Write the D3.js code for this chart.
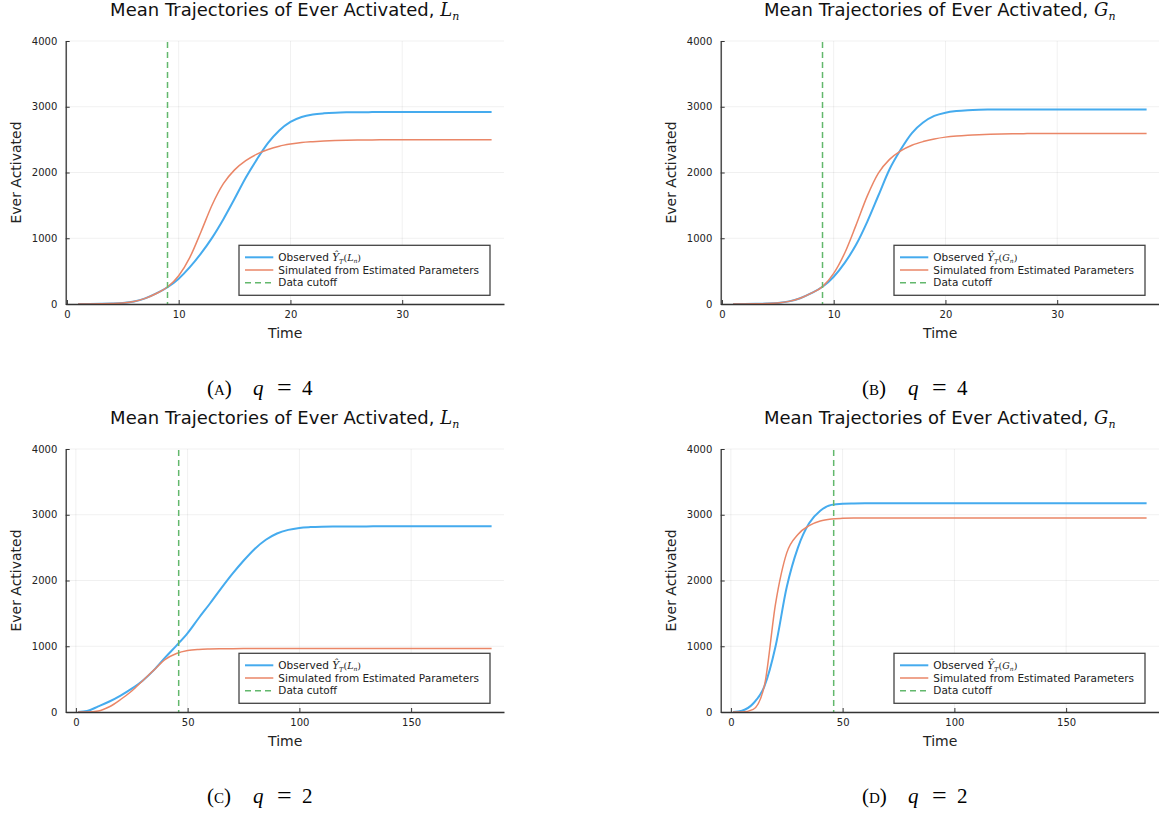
<!DOCTYPE html>
<html>
<head>
<meta charset="utf-8">
<script src="https://cdn.jsdelivr.net/npm/d3@7"></script>
<style>
  body { margin: 0; background: #fff; }
  svg { display: block; font-family: "DejaVu Sans", sans-serif; }
  text { white-space: pre; }
</style>
</head>
<body>
<svg id="fig" width="1159" height="813"></svg>
<script>
// ---- data ----
const timeQ4 = [1, 2, 3, 4, 5, 6, 7, 8, 9, 10, 11, 12, 13, 14, 15, 16, 17, 18, 19, 20,
  21, 22, 23, 24, 25, 26, 27, 28, 29, 30, 31, 32, 33, 34, 35, 36, 37, 38];
const obsLq4 = [0, 1, 3, 7, 16, 38, 85, 160, 255, 385, 560, 770, 1010, 1290, 1600, 1920, 2200, 2450, 2640, 2770,
  2845, 2882, 2900, 2910, 2915, 2917, 2918, 2919, 2919, 2920, 2920, 2920, 2920, 2920, 2920, 2920, 2920, 2920];
const simLq4 = [0, 1, 3, 7, 16, 38, 85, 160, 258, 430, 710, 1100, 1510, 1830, 2040, 2180, 2280, 2350, 2400, 2432,
  2455, 2468, 2478, 2485, 2490, 2493, 2495, 2497, 2498, 2499, 2500, 2500, 2500, 2500, 2500, 2500, 2500, 2500];
const obsGq4 = [0, 1, 3, 7, 17, 40, 88, 165, 262, 415, 630, 900, 1250, 1650, 2050, 2350, 2600, 2760, 2860, 2910,
  2935, 2948, 2955, 2958, 2960, 2960, 2960, 2960, 2960, 2960, 2960, 2960, 2960, 2960, 2960, 2960, 2960, 2960];
const simGq4 = [0, 1, 3, 7, 17, 40, 88, 165, 265, 465, 780, 1200, 1640, 1990, 2200, 2330, 2415, 2470, 2510, 2538,
  2556, 2568, 2576, 2582, 2586, 2589, 2591, 2593, 2594, 2595, 2595, 2595, 2595, 2595, 2595, 2595, 2595, 2595];

const timeQ2 = [1, 5, 10, 15, 20, 25, 30, 35, 40, 45, 50, 55, 60, 65, 70, 75, 80, 85, 90, 95,
  100, 105, 110, 115, 120, 130, 140, 150, 160, 170, 180, 186];
const obsLq2 = [0, 15, 85, 160, 250, 355, 480, 640, 830, 1010, 1200, 1430, 1650, 1880, 2100, 2300, 2480, 2620, 2715, 2770,
  2800, 2812, 2818, 2821, 2822, 2823, 2824, 2824, 2824, 2824, 2824, 2824];
const simLq2 = [0, 0, 15, 80, 190, 320, 480, 640, 800, 890, 935, 952, 958, 961, 963, 964, 964, 964, 964, 964,
  964, 964, 964, 964, 964, 964, 964, 964, 964, 964, 964, 964];
const obsGq2 = [0, 20, 130, 390, 1000, 1900, 2500, 2870, 3060, 3150, 3168, 3172, 3174, 3174, 3174, 3174, 3174, 3174, 3174, 3174,
  3174, 3174, 3174, 3174, 3174, 3174, 3174, 3174, 3174, 3174, 3174, 3174];
const simGq2 = [0, 0, 40, 400, 1650, 2420, 2700, 2835, 2905, 2935, 2945, 2949, 2950, 2950, 2950, 2950, 2950, 2950, 2950, 2950,
  2950, 2950, 2950, 2950, 2950, 2950, 2950, 2950, 2950, 2950, 2950, 2950];

const cutoffs = [9, 9, 46, 46];
const yTicks = [0, 1000, 2000, 3000, 4000];
const yDomain = [0, 4000];
const xTicksQ4 = [0, 10, 20, 30];
const xTicksQ2 = [0, 50, 100, 150];
const xDomainQ4 = [-0.11, 39.11];
const xDomainQ2 = [-4.55, 191.55];
const symbols = ['L', 'G', 'L', 'G'];
const captionLetters = ['a', 'b', 'c', 'd'];
const qValues = [4, 4, 2, 2];
const legendLabels = ['Observed ', 'Simulated from Estimated Parameters', 'Data cutoff'];

// ---- layout ----
const W = 438.3, H = 263;
const COL = { obs: '#45abee', sim: '#ea8667', cut: '#62b86c', axis: '#333', text: '#222' };
const SERIF = '"DejaVu Serif", serif';

const panels = [
  { left: 65.7, top: 41, t: timeQ4, obs: obsLq4, sim: simLq4, xTicks: xTicksQ4, xDomain: xDomainQ4 },
  { left: 720.7, top: 41, t: timeQ4, obs: obsGq4, sim: simGq4, xTicks: xTicksQ4, xDomain: xDomainQ4 },
  { left: 65.7, top: 449, t: timeQ2, obs: obsLq2, sim: simLq2, xTicks: xTicksQ2, xDomain: xDomainQ2 },
  { left: 720.7, top: 449, t: timeQ2, obs: obsGq2, sim: simGq2, xTicks: xTicksQ2, xDomain: xDomainQ2 },
];

const svg = d3.select('#fig');
svg.append('rect').attr('width', 1159).attr('height', 813).attr('fill', '#fff');

// math like  S_n  in a serif italic face
function mathSym(sel, sym, size, sub, subSize, drop) {
  sel.append('tspan').style('font-family', SERIF).style('font-style', 'italic')
    .attr('font-size', size).text(sym);
  sel.append('tspan').style('font-family', SERIF).style('font-style', 'italic')
    .attr('font-size', subSize).attr('dy', drop).text(sub);
}

panels.forEach((p, i) => {
  const g = svg.append('g').attr('transform', `translate(${p.left},${p.top})`);

  const x = d3.scaleLinear().domain(p.xDomain).range([0, W]);
  const y = d3.scaleLinear().domain(yDomain).range([H, 0]);

  // grid
  g.selectAll('.gy').data(yTicks).enter().append('line')
    .attr('x1', 0).attr('x2', W).attr('y1', d => y(d)).attr('y2', d => y(d))
    .attr('stroke', '#000').attr('stroke-opacity', 0.08).attr('stroke-width', 0.8);
  g.selectAll('.gx').data(p.xTicks).enter().append('line')
    .attr('y1', 0).attr('y2', H).attr('x1', d => x(d)).attr('x2', d => x(d))
    .attr('stroke', '#000').attr('stroke-opacity', 0.08).attr('stroke-width', 0.8);

  // series
  const line = d3.line().x(d => x(d[0])).y(d => y(d[1])).curve(d3.curveMonotoneX);
  g.append('path').datum(p.t.map((t, k) => [t, p.obs[k]]))
    .attr('d', line).attr('fill', 'none').attr('stroke', COL.obs).attr('stroke-width', 2);
  g.append('path').datum(p.t.map((t, k) => [t, p.sim[k]]))
    .attr('d', line).attr('fill', 'none').attr('stroke', COL.sim).attr('stroke-width', 1.5);
  g.append('line')
    .attr('x1', x(cutoffs[i])).attr('x2', x(cutoffs[i])).attr('y1', 1).attr('y2', H)
    .attr('stroke', COL.cut).attr('stroke-width', 1.5).attr('stroke-dasharray', '6,4');

  // axes
  const ax = g.append('g').attr('transform', `translate(0,${H})`)
    .call(d3.axisBottom(x).tickValues(p.xTicks).tickFormat(d3.format('d'))
      .tickSize(-4).tickSizeOuter(0).tickPadding(7));
  const ay = g.append('g')
    .call(d3.axisLeft(y).tickValues(yTicks).tickFormat(d3.format('d'))
      .tickSize(-4).tickSizeOuter(0).tickPadding(8.4));
  [ax, ay].forEach(a => {
    a.attr('font-family', null).attr('font-size', null);
    a.select('.domain').attr('stroke', COL.axis).attr('stroke-width', 1.3);
    a.selectAll('.tick line').attr('stroke', COL.axis).attr('stroke-width', 1);
    a.selectAll('.tick text').attr('font-size', 10).attr('fill', COL.text);
  });

  // title
  const title = g.append('text').attr('x', 219).attr('y', -25).attr('text-anchor', 'middle')
    .attr('font-size', 18).attr('fill', '#111');
  title.append('tspan').text('Mean Trajectories of Ever Activated, ');
  mathSym(title, symbols[i], 18, 'n', 11, 4);

  // axis labels
  g.append('text').attr('x', 219.5).attr('y', H + 34).attr('text-anchor', 'middle')
    .attr('font-size', 14).attr('fill', COL.text).text('Time');
  g.append('text').attr('transform', `translate(-44.7,${H / 2}) rotate(-90)`).attr('text-anchor', 'middle')
    .attr('font-size', 14).attr('fill', COL.text).text('Ever Activated');

  // legend
  const lg = g.append('g').attr('transform', 'translate(173.3,204.3)');
  lg.append('rect').attr('width', 251).attr('height', 50).attr('fill', '#fff')
    .attr('stroke', '#444').attr('stroke-width', 1.3);
  const rowY = [12, 24.7, 37.4];
  const styles = [
    { c: COL.obs, w: 2, dash: null },
    { c: COL.sim, w: 1.5, dash: null },
    { c: COL.cut, w: 1.5, dash: '6,4' },
  ];
  styles.forEach((s, r) => {
    lg.append('line').attr('x1', 6).attr('x2', 34.3).attr('y1', rowY[r]).attr('y2', rowY[r])
      .attr('stroke', s.c).attr('stroke-width', s.w).attr('stroke-dasharray', s.dash);
    const tx = lg.append('text').attr('x', 39.3).attr('y', rowY[r] + 3.8)
      .attr('font-size', 10.5).attr('fill', COL.text);
    tx.append('tspan').text(legendLabels[r]);
    if (r === 0) {
      mathSym(tx, 'Ŷ', 10.5, 'T', 6.5, 2.5);
      tx.append('tspan').attr('dy', -2.5).style('font-family', SERIF).attr('font-size', 9.5).text('(');
      mathSym(tx, symbols[i], 9.5, 'n', 6, 2);
      tx.append('tspan').attr('dy', -2).style('font-family', SERIF).attr('font-size', 9.5).text(')');
    }
  });

  // sub-figure caption
  const cap = svg.append('text').attr('y', p.top + 354)
    .style('font-family', '"Liberation Serif", "DejaVu Serif", serif')
    .attr('font-size', 21).attr('fill', '#000');
  const cx = p.left + 141.3;
  cap.append('tspan').attr('x', cx).text('(');
  cap.append('tspan').style('font-variant', 'small-caps').text(captionLetters[i]);
  cap.append('tspan').text(')');
  cap.append('tspan').attr('x', cx + 46).style('font-style', 'italic').text('q');
  cap.append('tspan').attr('x', cx + 70).attr('font-size', 26).attr('dy', 1).text('=');
  cap.append('tspan').attr('x', cx + 95).attr('dy', -1).text(qValues[i]);
});
</script>
</body>
</html>
